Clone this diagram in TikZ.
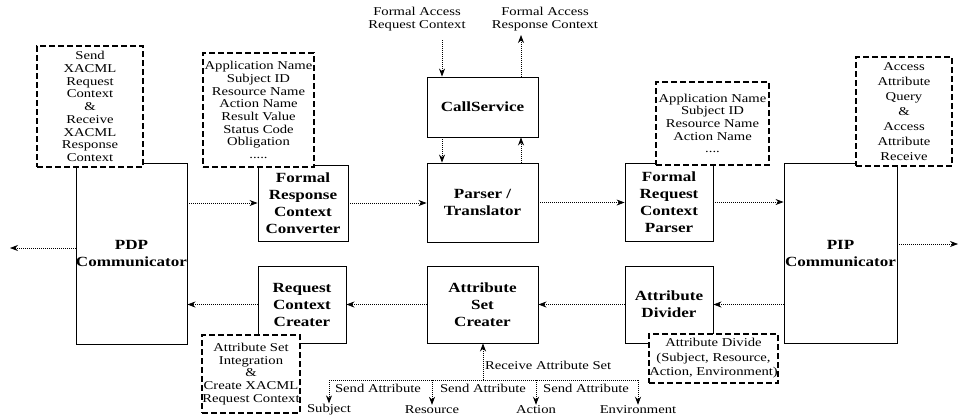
\documentclass[tikz,border=0pt]{standalone}
\usepackage{fontspec}
\setmainfont[FakeStretch=1.22]{Liberation Serif}
\usetikzlibrary{arrows.meta}
\begin{document}
\begin{tikzpicture}[x=1pt,y=-1pt,
  unit/.style={draw,line width=0.9pt,fill=white,inner sep=0pt,align=center,
    font=\fontsize{14}{17}\selectfont\bfseries},
  note/.style={draw,dash pattern=on 6pt off 3pt,line width=1.1pt,fill=white,inner sep=0pt,
    align=center,font=\fontsize{12}{12.7}\selectfont},
  lbl/.style={inner sep=1pt,align=center,font=\fontsize{12}{12.5}\selectfont},
  flow/.style={line width=0.7pt,dash pattern=on 1pt off 1pt,-{Stealth[length=8pt,width=6pt]}},
  bus/.style={line width=0.7pt,dash pattern=on 1pt off 1pt}]
\useasboundingbox (0,0) rectangle (960,418);

% main processing units
\node[unit,minimum width=111pt,minimum height=181pt] (pdp) at (131.5,253.5) {PDP\\Communicator};
\node[unit,minimum width=90pt,minimum height=76pt] (frc) at (303,203) {Formal\\Response\\Context\\Converter};
\node[unit,minimum width=111pt,minimum height=60pt] (call) at (482.5,107) {CallService};
\node[unit,minimum width=111pt,minimum height=79pt] (parser) at (482.5,202.5) {Parser /\\Translator};
\node[unit,minimum width=88pt,minimum height=78pt] (frp) at (669,202) {Formal\\Request\\Context\\Parser};
\node[unit,minimum width=113pt,minimum height=180pt] (pip) at (840.5,253) {PIP\\Communicator};
\node[unit,minimum width=88pt,minimum height=77pt] (rcc) at (302,304.5) {Request\\Context\\Creater};
\node[unit,minimum width=111pt,minimum height=77pt] (asc) at (482.5,304.5) {Attribute\\Set\\Creater};
\node[unit,minimum width=88pt,minimum height=77pt] (ad) at (669,304.5) {Attribute\\Divider};

% annotation boxes
\node[note,minimum width=106pt,minimum height=121pt] (n1) at (90,106.5)
  {Send\\XACML\\Request\\Context\\\&\\Receive\\XACML\\Response\\Context};
\node[note,minimum width=111pt,minimum height=114pt] (n2) at (258.5,110)
  {Application Name\\Subject ID\\Resource Name\\Action Name\\Result Value\\Status Code\\Obligation\\.....};
\node[note,minimum width=113pt,minimum height=83pt] (n3) at (712.5,123.5)
  {Application Name\\Subject ID\\Resource Name\\Action Name\\....};
\node[note,minimum width=96pt,minimum height=109pt,font=\fontsize{12}{15}\selectfont] (n4) at (904,111.5)
  {Access\\Attribute\\Query\\\&\\Access\\Attribute\\Receive};
\node[note,minimum width=98pt,minimum height=78pt] (n5) at (251,374)
  {Attribute Set\\Integration\\\&\\Create XACML\\Request Context};
\node[note,minimum width=129pt,minimum height=49pt,font=\fontsize{12}{14.5}\selectfont] (n6) at (713.5,358.5)
  {Attribute Divide\\(Subject, Resource,\\Action, Environment)};

% external interfaces of the call service
\node[lbl] (reqlbl) at (417,19) {Formal Access\\Request Context};
\node[lbl] (reslbl) at (545,19) {Formal Access\\Response Context};
\coordinate (inTop) at (442,40);
\coordinate (outTop) at (521,35);
\draw[flow] (inTop) -- (inTop |- call.north);
\draw[flow] (call.north -| outTop) -- (outTop);
\draw[flow] (call.south -| inTop) -- (parser.north -| inTop);
\draw[flow] (parser.north -| outTop) -- (call.south -| outTop);

% response path (upper row)
\draw[flow] (frc.west -| pdp.east) -- (frc.west);
\draw[flow] (frc.east) -- (frc.east -| parser.west);
\draw[flow] (parser.east) -- (parser.east -| frp.west);
\draw[flow] (frp.east) -- (frp.east -| pip.west);

% attribute path (lower row)
\draw[flow] (pip.west |- ad.east) -- (ad.east);
\draw[flow] (ad.west) -- (asc.east);
\draw[flow] (asc.west) -- (rcc.east);
\draw[flow] (rcc.west) -- (rcc.west -| pdp.east);

% outside links
\coordinate (outL) at (10,248);
\coordinate (outR) at (958,244);
\draw[flow] (pdp.west |- outL) -- (outL);
\draw[flow] (pip.east |- outR) -- (outR);

% attribute sources
\node[lbl] (subj) at (329,410) {Subject};
\node[lbl] (res) at (432,410) {Resource};
\node[lbl] (act) at (536,410) {Action};
\node[lbl] (env) at (638,410) {Environment};
\coordinate (hub) at (483,380);
\draw[bus] (hub -| subj) -- (hub -| env);
\draw[flow] (hub) -- (asc.south -| hub);
\draw[flow] (hub -| subj) -- (subj.north);
\draw[flow] (hub -| res) -- (res.north);
\draw[flow] (hub -| act) -- (act.north);
\draw[flow] (hub -| env) -- (env.north);
\node[lbl,anchor=west] (recv) at (484,365) {Receive Attribute Set};
\node[lbl] (s1) at (378,388) {Send Attribute};
\node[lbl] (s2) at (483,388) {Send Attribute};
\node[lbl] (s3) at (586,388) {Send Attribute};
\end{tikzpicture}
\end{document}
